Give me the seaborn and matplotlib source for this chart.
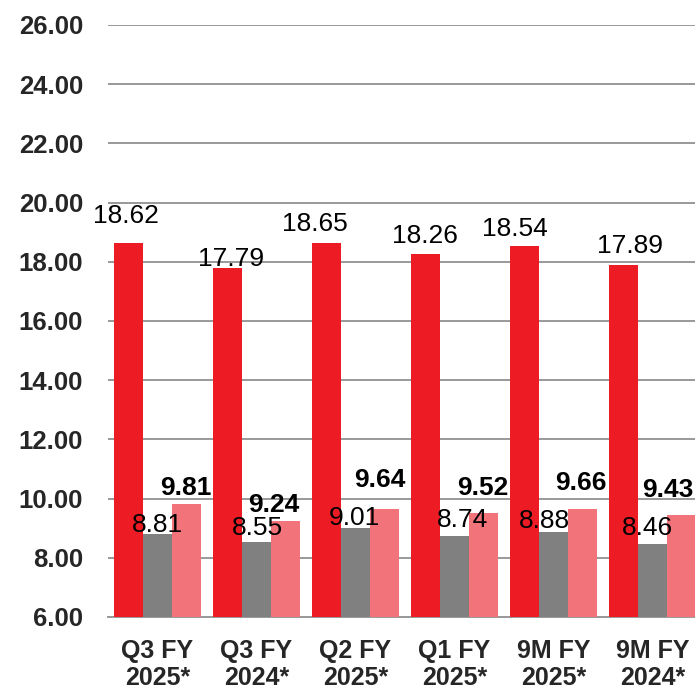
import matplotlib
matplotlib.use("Agg")
import matplotlib.pyplot as plt
import seaborn as sns
import pandas as pd

categories = ["Q3 FY\n2025*", "Q3 FY\n2024*", "Q2 FY\n2025*", "Q1 FY\n2025*", "9M FY\n2025*", "9M FY\n2024*"]
series_names = ["Series 1", "Series 2", "Series 3"]
series1 = [18.62, 17.79, 18.65, 18.26, 18.54, 17.89]
series2 = [8.81, 8.55, 9.01, 8.74, 8.88, 8.46]
series3 = [9.81, 9.24, 9.64, 9.52, 9.66, 9.43]
colors = ["#ED1C24", "#808080", "#F2737A"]
yticks = [6, 8, 10, 12, 14, 16, 18, 20, 22, 24, 26]

# label placement offsets in pixels (dx, gap above bar top), as in the original
label_offsets = [
    [(-2.5, 20), (4, 2), (-11.5, 12), (-1, 11), (-10, 10), (6.5, 12.5)],
    [(-0.5, 2), (0.5, 6.5), (-1.5, 3), (8.5, 9), (-9.5, 4), (-5.5, 9)],
    [(-0.5, 9), (-11.5, 9), (-4.5, 22), (-0.5, 18), (-1.5, 19), (-13.5, 18.5)],
]
label_weights = ["normal", "normal", "bold"]

rows = []
for name, vals in zip(series_names, [series1, series2, series3]):
    for c, v in zip(categories, vals):
        rows.append({"cat": c, "series": name, "value": v})
df = pd.DataFrame(rows)

sns.set_style("white")
plt.rcParams["font.family"] = ["Liberation Sans", "DejaVu Sans"]

fig = plt.figure(figsize=(6.95, 6.89), dpi=100)
ax = fig.add_axes([108 / 695, (689 - 617) / 689, 594 / 695, 592 / 689])

sns.barplot(data=df, x="cat", y="value", hue="series", hue_order=series_names,
            order=categories, palette=colors, width=0.879, gap=0, saturation=1,
            edgecolor="none", linewidth=0, legend=False, ax=ax, zorder=3)

ax.set_ylim(6, 26)
ax.set_xlim(-0.5, len(categories) - 0.5)
ax.set_yticks(yticks)
ax.set_yticklabels([f"{t:.2f}" for t in yticks], fontsize=18.5, fontweight="bold")
ax.tick_params(axis="y", length=0, pad=18)
ax.yaxis.grid(True, color="#999999", linewidth=1.4, zorder=0)
ax.set_axisbelow(True)

ax.set_xticks(range(len(categories)))
ax.set_xticklabels(categories, fontsize=18, fontweight="bold", linespacing=1.15)
ax.tick_params(axis="x", which="major", length=0, pad=16)
ax.set_xticks([i - 0.5 for i in range(len(categories) + 1)], minor=True)
ax.tick_params(axis="x", which="minor", length=7, width=1.4, color="#999999", direction="out")

for s in ["top", "right", "left"]:
    ax.spines[s].set_visible(False)
ax.spines["bottom"].set_color("#999999")
ax.spines["bottom"].set_linewidth(1.4)
ax.set_xlabel("")
ax.set_ylabel("")

for cont, offs, w in zip(ax.containers, label_offsets, label_weights):
    for bar, (dx, gap) in zip(cont.patches, offs):
        x = bar.get_x() + bar.get_width() / 2
        y = bar.get_height() + bar.get_y()
        ax.annotate(f"{bar.get_height():.2f}", xy=(x, y), xytext=(dx, gap),
                    textcoords="offset pixels", ha="center", va="baseline",
                    fontsize=19, fontweight=w, color="black", zorder=5,
                    annotation_clip=False)

fig.savefig("out.png", dpi=100)
